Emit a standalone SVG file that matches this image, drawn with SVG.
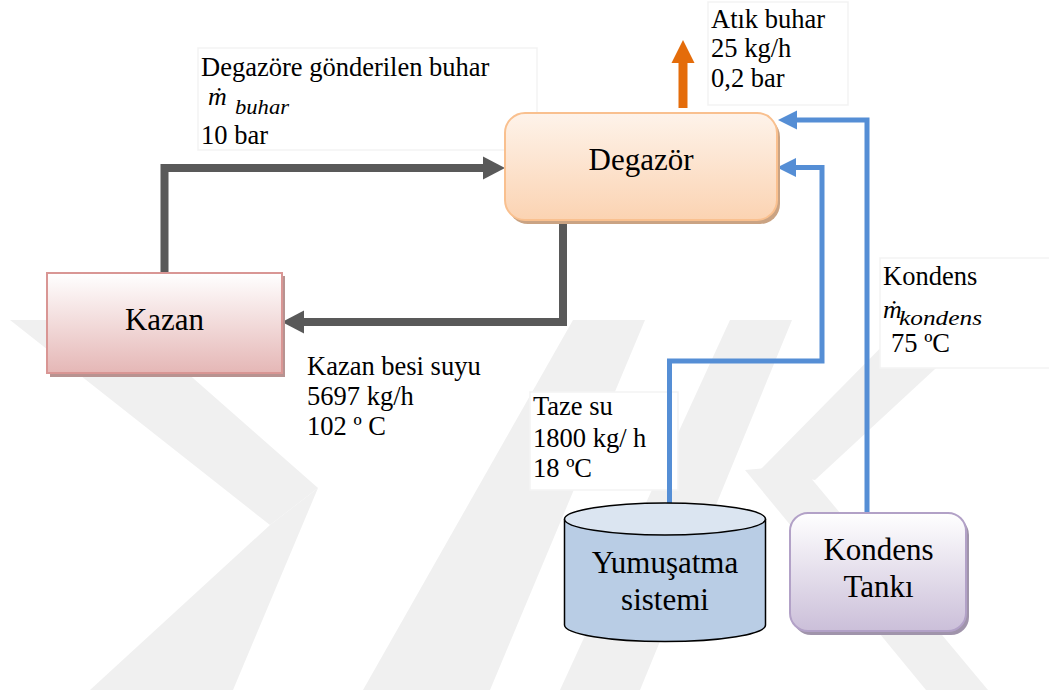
<svg xmlns="http://www.w3.org/2000/svg" width="1049" height="692" viewBox="0 0 1049 692">
  <defs>
    <linearGradient id="gDeg" x1="0" y1="0" x2="0" y2="1">
      <stop offset="0" stop-color="#fef3ea"/>
      <stop offset="1" stop-color="#fbd3b2"/>
    </linearGradient>
    <linearGradient id="gKaz" x1="0" y1="0" x2="0" y2="1">
      <stop offset="0" stop-color="#ffffff"/>
      <stop offset="1" stop-color="#e5b7b6"/>
    </linearGradient>
    <linearGradient id="gTank" x1="0" y1="0" x2="0" y2="1">
      <stop offset="0" stop-color="#ffffff"/>
      <stop offset="1" stop-color="#cbbfd9"/>
    </linearGradient>
    <!-- arrowheads: base sits on the line end, tip extends forward -->
    <marker id="ahGray" markerWidth="24" markerHeight="24" refX="0" refY="0" viewBox="0 -12 24 24" orient="auto" markerUnits="userSpaceOnUse">
      <path d="M0,-11.5 L22,0 L0,11.5 Z" fill="#595959"/>
    </marker>
    <marker id="ahBlue" markerWidth="20" markerHeight="20" refX="0" refY="0" viewBox="0 -10 20 20" orient="auto" markerUnits="userSpaceOnUse">
      <path d="M0,-9.5 L19,0 L0,9.5 Z" fill="#558ed5"/>
    </marker>
    <marker id="ahOrange" markerWidth="26" markerHeight="26" refX="0" refY="0" viewBox="0 -13 26 26" orient="auto" markerUnits="userSpaceOnUse">
      <path d="M0,-11.5 L23,0 L0,11.5 Z" fill="#e46c0a"/>
    </marker>
  </defs>
  <style>
    text { font-family: "Liberation Serif", "DejaVu Serif", serif; }
    .lbl { font-size: 26.5px; fill: #000; }
    .node { font-size: 31px; fill: #000; text-anchor: middle; }
    .math { font-style: italic; fill: #000; }
    .box { fill: #ffffff; stroke: #f3f3f3; stroke-width: 1.5; }
    .wm { fill: #f0f0f0; }
  </style>

  <rect width="1049" height="692" fill="#ffffff"/>

  <!-- faint background emblem -->
  <g id="emblem">
    <polygon class="wm" points="10,320 127,320 318,488 270,525"/>
    <polygon class="wm" points="270,525 318,488 233,690 90,690"/>
    <polygon class="wm" points="573,320 645,320 490,690 363,690"/>
    <polygon class="wm" points="730,320 792,320 640,690 560,690"/>
    <polygon class="wm" points="908,320 988,320 815,480 760,470"/>
    <polygon class="wm" points="745,470 800,465 988,690 926,690"/>
  </g>

  <!-- label boxes -->
  <g id="label-buhar">
    <rect class="box" x="198" y="48" width="339" height="102"/>
    <text class="lbl" x="201" y="76">Degazöre gönderilen buhar</text>
    <text class="math" x="208" y="105" font-size="26">ṁ</text>
    <text class="math" x="235" y="114" font-size="21" textLength="54" lengthAdjust="spacingAndGlyphs">buhar</text>
    <text class="lbl" x="201" y="144">10 bar</text>
  </g>
  <g id="label-atik">
    <rect class="box" x="708" y="2" width="140" height="103"/>
    <text class="lbl" x="711" y="28">Atık buhar</text>
    <text class="lbl" x="711" y="57">25 kg/h</text>
    <text class="lbl" x="711" y="87">0,2 bar</text>
  </g>
  <g id="label-besi">
    <rect x="298" y="340" width="194" height="112" fill="#ffffff"/>
    <text class="lbl" x="307" y="375">Kazan besi suyu</text>
    <text class="lbl" x="307" y="405">5697 kg/h</text>
    <text class="lbl" x="307" y="435">102 º C</text>
  </g>
  <g id="label-taze">
    <rect class="box" x="530" y="392" width="148" height="98"/>
    <text class="lbl" x="533" y="415">Taze su</text>
    <text class="lbl" x="533" y="447">1800 kg/ h</text>
    <text class="lbl" x="533" y="477">18 ºC</text>
  </g>
  <g id="label-kondens">
    <rect class="box" x="880" y="258" width="175" height="110"/>
    <text class="lbl" x="883" y="285">Kondens</text>
    <text class="math" x="883" y="318" font-size="26">ṁ</text>
    <text class="math" x="899" y="325" font-size="21" textLength="83" lengthAdjust="spacingAndGlyphs">kondens</text>
    <text class="lbl" x="891" y="352">75 ºC</text>
  </g>

  <!-- connectors -->
  <g id="connectors" fill="none" stroke-linejoin="miter">
    <polyline points="164.5,273 164.5,168 483,168" stroke="#595959" stroke-width="8" marker-end="url(#ahGray)"/>
    <polyline points="563,220 563,322 304,322" stroke="#595959" stroke-width="8" marker-end="url(#ahGray)"/>
    <line x1="683" y1="108" x2="683" y2="63" stroke="#e46c0a" stroke-width="9" marker-end="url(#ahOrange)"/>
    <polyline points="669.5,503 669.5,361 822,361 822,167.5 796,167.5" stroke="#558ed5" stroke-width="5" marker-end="url(#ahBlue)"/>
    <polyline points="867,513 867,120 797,120" stroke="#558ed5" stroke-width="5" marker-end="url(#ahBlue)"/>
  </g>

  <!-- nodes -->
  <g id="degazor">
    <rect x="508" y="117" width="272" height="107" rx="20" fill="#caa383"/>
    <rect x="505" y="113" width="272" height="107" rx="20" fill="url(#gDeg)" stroke="#f9c08f" stroke-width="2"/>
    <text class="node" x="641" y="170">Degazör</text>
  </g>
  <g id="kazan">
    <rect x="50" y="276" width="235" height="101" fill="#b89391"/>
    <rect x="47" y="273" width="235" height="100" fill="url(#gKaz)" stroke="#d99694" stroke-width="2"/>
    <text class="node" x="164.5" y="330">Kazan</text>
  </g>
  <g id="yumusatma">
    <path d="M564.5,519 L564.5,625 A100.5,16.5 0 0 0 765.5,625 L765.5,519" fill="#b9cde5" stroke="#000" stroke-width="1.5"/>
    <ellipse cx="665" cy="519" rx="100.5" ry="16" fill="#dbe5f1" stroke="#000" stroke-width="1.5"/>
    <text class="node" x="665" y="573">Yumuşatma</text>
    <text class="node" x="665" y="610">sistemi</text>
  </g>
  <g id="kondens-tanki">
    <rect x="793" y="517" width="176" height="118" rx="18" fill="#a094ab"/>
    <rect x="790" y="513" width="176" height="118" rx="18" fill="url(#gTank)" stroke="#b2a1c7" stroke-width="2"/>
    <text class="node" x="878.5" y="560">Kondens</text>
    <text class="node" x="878.5" y="597">Tankı</text>
  </g>
</svg>
